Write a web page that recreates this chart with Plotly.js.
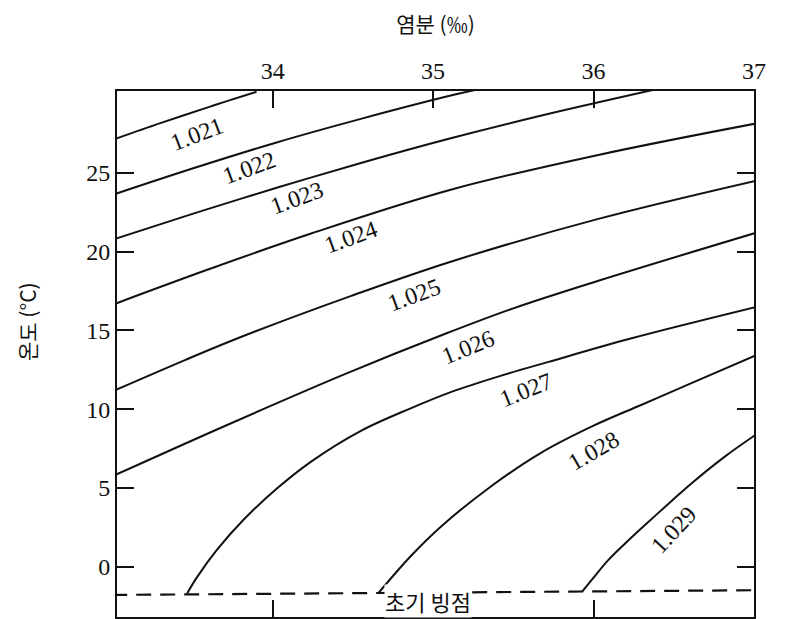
<!DOCTYPE html>
<html>
<head>
<meta charset="utf-8">
<script src="https://cdn.plot.ly/plotly-3.0.1.min.js"></script>
<style>html,body{margin:0;padding:0;background:#fff;}#chart{width:788px;height:619px;}</style>
</head>
<body>
<div id="chart"></div>
<script>
// Salinity (‰) / temperature (°C) points along each density contour
const densityLabels = ["1.021","1.022","1.023","1.024","1.025","1.026","1.027","1.028","1.029"];
const s1021 = [33.0, 33.30, 33.61, 33.90];
const t1021 = [27.09, 28.16, 29.21, 30.15];
const s1022 = [33.0, 33.51, 34.03, 34.55, 35.11, 35.30];
const t1022 = [23.60, 25.31, 26.95, 28.43, 29.91, 30.35];
const s1023 = [33.0, 33.51, 34.03, 34.55, 35.11, 35.67, 36.42];
const t1023 = [20.75, 22.43, 24.07, 25.63, 27.20, 28.63, 30.38];
const s1024 = [33.0, 33.61, 34.24, 35.11, 36.03, 37.02];
const t1024 = [16.62, 18.91, 21.15, 23.93, 26.14, 28.15];
const s1025 = [33.0, 33.45, 33.81, 34.49, 35.11, 36.03, 37.02];
const t1025 = [11.12, 13.10, 14.61, 17.19, 19.36, 22.08, 24.52];
const s1026 = [33.0, 33.72, 34.45, 35.08, 35.50, 36.03, 37.02];
const t1026 = [5.73, 9.01, 12.22, 14.80, 16.40, 18.15, 21.22];
const s1027 = [33.467, 33.53, 33.65, 33.82, 34.03, 34.24, 34.55, 34.86, 35.11, 35.40, 35.72, 36.22, 37.02];
const t1027 = [-1.70, -0.65, 1.03, 2.99, 4.99, 6.67, 8.62, 10.05, 11.08, 12.05, 13.0, 14.45, 16.5];
const s1028 = [34.66, 34.86, 35.05, 35.36, 35.67, 35.99, 36.30, 36.61, 37.02];
const t1028 = [-1.67, 0.66, 2.55, 5.09, 7.21, 8.90, 10.28, 11.65, 13.45];
const s1029 = [35.93, 36.00, 36.09, 36.20, 36.30, 36.49, 36.61, 36.82, 37.02];
const t1029 = [-1.58, -0.70, 0.40, 1.50, 2.45, 4.20, 5.28, 7.0, 8.44];

// Initial freezing point line
const freezeS = [33.0, 37.0];
const freezeT = [-1.8, -1.5];
const freezeLabel = "초기 빙점";

// Contour label anchor points (data coords) and their text angles
const labelS = [33.53, 33.85, 34.15, 34.49, 34.88, 35.22, 35.58, 36.00, 36.50];
const labelT = [27.46, 25.34, 23.40, 20.90, 17.26, 13.96, 11.23, 7.31, 2.31];
const labelAngle = [-21, -20, -20, -20, -20, -22, -22, -30, -47];

// Axis ticks
const xTicks = [34, 35, 36, 37];
const yTicks = [0, 5, 10, 15, 20, 25];
const xTitle = "염분 (‰)";
const yTitle = "온도 (°C)";

const sArr = [s1021, s1022, s1023, s1024, s1025, s1026, s1027, s1028, s1029];
const tArr = [t1021, t1022, t1023, t1024, t1025, t1026, t1027, t1028, t1029];

const traces = sArr.map((s, i) => ({
  type: 'scatter', mode: 'lines', x: s, y: tArr[i],
  line: {color: '#111', width: 2, shape: 'spline', smoothing: 1},
  hoverinfo: 'skip', showlegend: false, name: densityLabels[i]
}));
traces.push({
  type: 'scatter', mode: 'lines', x: freezeS, y: freezeT,
  line: {color: '#111', width: 2.2, dash: '15px,9px'},
  hoverinfo: 'skip', showlegend: false
});

const serif = '"Liberation Serif", "DejaVu Serif", serif';
const kr = '"Noto Sans CJK KR", sans-serif';

const annotations = densityLabels.map((t, i) => ({
  x: labelS[i], y: labelT[i], xref: 'x', yref: 'y', text: t,
  showarrow: false, textangle: labelAngle[i],
  font: {family: serif, size: 24, color: '#111'}
}));
annotations.push({
  x: 34.97, y: -2.2, xref: 'x', yref: 'y', text: freezeLabel, showarrow: false,
  bgcolor: '#fff', borderpad: 0,
  font: {family: kr, size: 22, color: '#111'}
});
annotations.push({
  x: (27 - 117) / (788 - 117 - 34), y: (617 - 322) / (617 - 91),
  xref: 'paper', yref: 'paper', xanchor: 'center', yanchor: 'middle',
  text: yTitle, showarrow: false,
  textangle: -90, font: {family: kr, size: 21, color: '#111'}
});

const layout = {
  width: 788, height: 619,
  margin: {l: 117, r: 34, t: 91, b: 2},
  paper_bgcolor: '#fff', plot_bgcolor: '#fff',
  showlegend: false,
  xaxis: {
    range: [33.03, 37.0], side: 'top', tickvals: xTicks, ticktext: xTicks.map(String),
    ticks: 'inside', ticklen: 17, tickwidth: 2, tickcolor: '#111',
    showline: true, linewidth: 2, linecolor: '#111', mirror: 'ticks',
    showgrid: false, zeroline: false,
    tickfont: {family: serif, size: 24, color: '#111'},
    title: {text: xTitle, font: {family: kr, size: 21, color: '#111'}, standoff: 20}
  },
  yaxis: {
    range: [-3.2, 30.2], tickvals: yTicks, ticktext: yTicks.map(String),
    ticks: 'inside', ticklen: 17, tickwidth: 2, tickcolor: '#111',
    showline: true, linewidth: 2, linecolor: '#111', mirror: 'ticks',
    showgrid: false, zeroline: false,
    tickfont: {family: serif, size: 24, color: '#111'}
  },
  annotations: annotations
};

Plotly.newPlot('chart', traces, layout, {staticPlot: true, displayModeBar: false});
</script>
</body>
</html>
